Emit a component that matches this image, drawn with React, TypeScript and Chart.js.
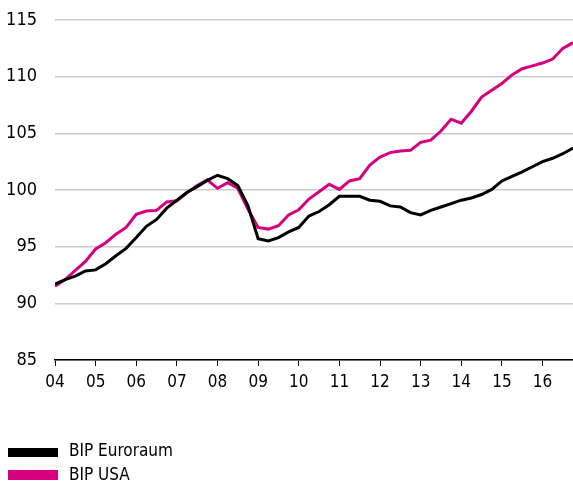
import React, { useEffect, useRef } from "react";
import { Chart, registerables } from "chart.js";

Chart.register(...registerables);

const yearLabels = ["04", "05", "06", "07", "08", "09", "10", "11", "12", "13", "14", "15", "16"];

const euroValues = [
  91.7, 92.1, 92.4, 92.85, 92.95, 93.5, 94.2, 94.85, 95.8, 96.8, 97.4, 98.4, 99.1,
  99.8, 100.3, 100.85, 101.3, 101.0, 100.4, 98.6, 95.7, 95.5, 95.8, 96.3, 96.7,
  97.7, 98.1, 98.7, 99.45, 99.45, 99.45, 99.1, 99.0, 98.6, 98.5, 98.0, 97.8, 98.2,
  98.5, 98.8, 99.1, 99.3, 99.6, 100.05, 100.8, 101.2, 101.6, 102.05, 102.5, 102.8,
  103.2, 103.7,
];

const usaValues = [
  91.5, 92.1, 92.9, 93.7, 94.8, 95.35, 96.1, 96.7, 97.85, 98.15, 98.2, 98.95, 99.05,
  99.75, 100.4, 100.9, 100.15, 100.65, 100.15, 98.3, 96.7, 96.55, 96.85, 97.8, 98.25,
  99.2, 99.85, 100.5, 100.05, 100.8, 101.0, 102.2, 102.9, 103.3, 103.45, 103.5, 104.2,
  104.4, 105.2, 106.25, 105.9, 106.95, 108.2, 108.8, 109.4, 110.15, 110.7, 110.95,
  111.2, 111.55, 112.5, 113.0,
];

const seriesNames = ["BIP Euroraum", "BIP USA"];
const seriesColors = ["#000000", "#d6007e"];

const FONT = "'DejaVu Sans Condensed', 'Liberation Sans', sans-serif";

export default function App() {
  const ref = useRef<HTMLCanvasElement | null>(null);

  useEffect(() => {
    if (!ref.current) return;
    const toPoints = (arr: number[]) => arr.map((v, i) => ({ x: i, y: v }));
    const chart = new Chart(ref.current, {
      type: "line",
      data: {
        datasets: [
          {
            label: seriesNames[0],
            data: toPoints(euroValues),
            borderColor: seriesColors[0],
            backgroundColor: seriesColors[0],
            borderWidth: 3,
            pointRadius: 0,
            tension: 0,
          },
          {
            label: seriesNames[1],
            data: toPoints(usaValues),
            borderColor: seriesColors[1],
            backgroundColor: seriesColors[1],
            borderWidth: 3,
            pointRadius: 0,
            tension: 0,
          },
        ],
      },
      options: {
        animation: false,
        responsive: false,
        devicePixelRatio: 1,
        layout: { padding: { top: 20, right: 0, left: 0, bottom: 0 } },
        plugins: { legend: { display: false }, tooltip: { enabled: false } },
        scales: {
          x: {
            type: "linear",
            min: 0,
            max: euroValues.length - 1,
            afterBuildTicks: (scale: any) => {
              const t = [];
              for (let i = 0; i < yearLabels.length; i++) t.push({ value: i * 4 });
              scale.ticks = t;
            },
            afterFit: (scale: any) => {
              scale.height = 125;
              scale.paddingLeft = 0;
              scale.paddingRight = 0;
            },
            ticks: {
              autoSkip: false,
              maxRotation: 0,
              padding: 6,
              color: "#000",
              font: { family: FONT, size: 17 },
              callback: (v: any) => yearLabels[Math.round(Number(v) / 4)] ?? "",
            },
            grid: {
              drawOnChartArea: false,
              drawTicks: true,
              tickLength: 6,
              color: "#000",
              lineWidth: 1,
            },
            border: { display: true, color: "#000", width: 1.5 },
          },
          y: {
            min: 85,
            max: 115,
            afterFit: (scale: any) => {
              scale.width = 55;
              scale.paddingTop = 0;
              scale.paddingBottom = 0;
            },
            ticks: {
              stepSize: 5,
              padding: 18,
              color: "#000",
              font: { family: FONT, size: 18 },
            },
            grid: { drawTicks: false, color: "#cccccc", lineWidth: 1.5 },
            border: { display: false },
          },
        },
      },
    });
    return () => chart.destroy();
  }, []);

  const legendText: React.CSSProperties = {
    position: "absolute",
    left: 69,
    fontFamily: FONT,
    fontSize: 17,
    lineHeight: "19px",
    color: "#000",
    whiteSpace: "nowrap",
  };

  return (
    <div style={{ position: "fixed", left: 0, top: 0, width: 573, height: 485, background: "#fff" }}>
      <canvas ref={ref} width={573} height={485} style={{ display: "block", width: 573, height: 485 }} />
      <div style={{ position: "absolute", left: 8, top: 448, width: 50, height: 9, background: seriesColors[0] }} />
      <div style={{ ...legendText, top: 441 }}>{seriesNames[0]}</div>
      <div style={{ position: "absolute", left: 8, top: 470, width: 50, height: 10, background: seriesColors[1] }} />
      <div style={{ ...legendText, top: 465 }}>{seriesNames[1]}</div>
    </div>
  );
}
